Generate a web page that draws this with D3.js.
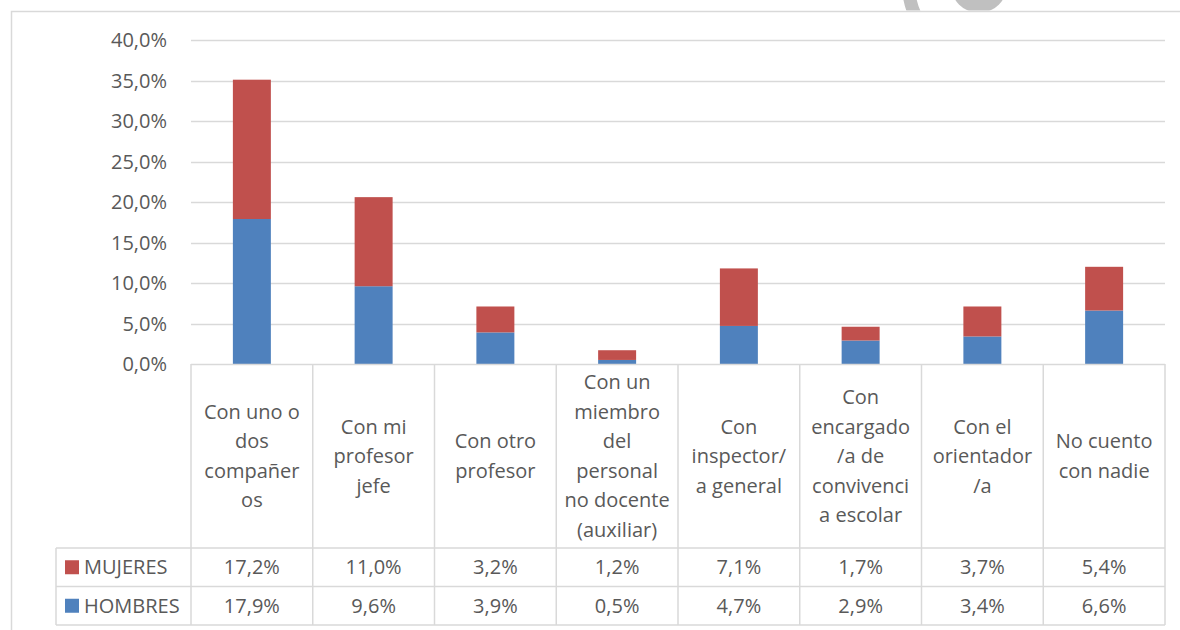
<!DOCTYPE html>
<html>
<head>
<meta charset="utf-8">
<script src="https://cdn.jsdelivr.net/npm/d3@7"></script>
<style>
  body { margin: 0; background: #fff; }
  text { font-family: "Open Sans", "Noto Sans", sans-serif; fill: #595959; }
</style>
</head>
<body>
<div id="chart"></div>
<script>
// DATA
var categories = [
  ["Con uno o", "dos", "compañer", "os"],
  ["Con mi", "profesor", "jefe"],
  ["Con otro", "profesor"],
  ["Con un", "miembro", "del", "personal", "no docente", "(auxiliar)"],
  ["Con", "inspector/", "a general"],
  ["Con", "encargado", "/a de", "convivenci", "a escolar"],
  ["Con el", "orientador", "/a"],
  ["No cuento", "con nadie"]
];
var seriesNames = ["MUJERES", "HOMBRES"];
var mujeres = [17.2, 11.0, 3.2, 1.2, 7.1, 1.7, 3.7, 5.4];
var hombres = [17.9, 9.6, 3.9, 0.5, 4.7, 2.9, 3.4, 6.6];
var yTicks = [0, 5, 10, 15, 20, 25, 30, 35, 40];

var width = 1180, height = 630;
var colors = { MUJERES: "#c0504d", HOMBRES: "#4f81bd" };
var gridColor = "#d9d9d9";
var fontSize = "20px";

var plotLeft = 191, plotRight = 1165, plotTop = 40, plotBottom = 364;
var headerBottom = 548, rowH = 38.5, legendLeft = 56;

var svg = d3.select("#chart").append("svg")
    .attr("width", width)
    .attr("height", height);

// watermark fragment above the frame
var wm = svg.append("g").attr("clip-path", "url(#wmclip)");
svg.append("defs").append("clipPath").attr("id", "wmclip")
  .append("rect").attr("x", 0).attr("y", 0).attr("width", width).attr("height", 10.5);
wm.append("circle").attr("cx", 979).attr("cy", -15).attr("r", 28).attr("fill", "#c0c0c0");
wm.append("path")
  .attr("transform", "translate(979,-15)")
  .attr("d", d3.arc().innerRadius(64).outerRadius(77)
    .startAngle(-125 * Math.PI / 180).endAngle(-95 * Math.PI / 180)())
  .attr("fill", "#c0c0c0");

// chart frame
svg.append("rect")
  .attr("x", 11.5).attr("y", 11.5)
  .attr("width", width).attr("height", height)
  .attr("fill", "none").attr("stroke", gridColor).attr("stroke-width", 1.5);

// SCALES
var x = d3.scaleBand()
  .domain(d3.range(categories.length))
  .range([plotLeft, plotRight])
  .paddingInner(0.688)
  .paddingOuter(0.344);

var y = d3.scaleLinear().domain([0, 40]).range([plotBottom, plotTop]);

// gridlines
svg.append("g").selectAll("line")
  .data(yTicks.filter(function(d) { return d > 0; }))
  .enter().append("line")
  .attr("x1", plotLeft).attr("x2", plotRight)
  .attr("y1", function(d) { return Math.round(y(d)) + 0.5; })
  .attr("y2", function(d) { return Math.round(y(d)) + 0.5; })
  .attr("stroke", gridColor).attr("stroke-width", 1.5);

// y labels
svg.append("g").selectAll("text")
  .data(yTicks)
  .enter().append("text")
  .attr("x", 167)
  .attr("y", function(d) { return y(d); })
  .attr("dy", "0.36em")
  .attr("text-anchor", "end")
  .style("font-size", fontSize)
  .text(function(d) { return d3.format(".1f")(d).replace(".", ",") + "%"; });

// STACKED BARS
var rows = categories.map(function(c, i) { return { i: i, HOMBRES: hombres[i], MUJERES: mujeres[i] }; });
var stack = d3.stack().keys(["HOMBRES", "MUJERES"]);
var layers = stack(rows);

svg.append("g").selectAll("g")
  .data(layers)
  .enter().append("g")
  .attr("fill", function(d) { return colors[d.key]; })
  .selectAll("rect")
  .data(function(d) { return d; })
  .enter().append("rect")
  .attr("x", function(d) { return x(d.data.i); })
  .attr("width", x.bandwidth())
  .attr("y", function(d) { return y(d[1]); })
  .attr("height", function(d) { return y(d[0]) - y(d[1]); });

// DATA TABLE
var tableBottom = headerBottom + 2 * rowH;
var tbl = svg.append("g").attr("stroke", gridColor).attr("stroke-width", 1.5).attr("fill", "none");
var colEdges = d3.range(categories.length + 1).map(function(i) { return plotLeft + i * x.step(); });

// horizontal lines
tbl.append("line").attr("x1", plotLeft).attr("x2", plotRight).attr("y1", plotBottom + 0.5).attr("y2", plotBottom + 0.5);
[headerBottom, headerBottom + rowH, tableBottom].forEach(function(yy) {
  tbl.append("line").attr("x1", legendLeft).attr("x2", plotRight).attr("y1", yy).attr("y2", yy);
});
// vertical lines
colEdges.forEach(function(xx) {
  tbl.append("line").attr("x1", xx).attr("x2", xx).attr("y1", plotBottom).attr("y2", tableBottom);
});
tbl.append("line").attr("x1", legendLeft).attr("x2", legendLeft).attr("y1", headerBottom).attr("y2", tableBottom);

// category headers
var lineH = 29.5;
var headers = svg.append("g").selectAll("text")
  .data(categories)
  .enter().append("text")
  .attr("text-anchor", "middle")
  .style("font-size", fontSize);
headers.each(function(lines, i) {
  var cx = x(i) + x.bandwidth() / 2;
  var cy = (plotBottom + headerBottom) / 2 - (lines.length - 1) * lineH / 2;
  d3.select(this).selectAll("tspan")
    .data(lines)
    .enter().append("tspan")
    .attr("x", cx)
    .attr("y", function(d, j) { return cy + j * lineH; })
    .attr("dy", "0.36em")
    .text(function(d) { return d; });
});

// value rows
var fmt = function(v) { return d3.format(".1f")(v).replace(".", ",") + "%"; };
[mujeres, hombres].forEach(function(vals, r) {
  var cy = headerBottom + r * rowH + rowH / 2;
  var name = seriesNames[r];
  svg.append("rect")
    .attr("x", 65).attr("y", cy - 7).attr("width", 14).attr("height", 14)
    .attr("fill", colors[name]);
  svg.append("text")
    .attr("x", 84).attr("y", cy).attr("dy", "0.36em")
    .style("font-size", fontSize)
    .text(name);
  svg.append("g").selectAll("text")
    .data(vals)
    .enter().append("text")
    .attr("x", function(d, i) { return x(i) + x.bandwidth() / 2; })
    .attr("y", cy).attr("dy", "0.36em")
    .attr("text-anchor", "middle")
    .style("font-size", fontSize)
    .text(fmt);
});
</script>
</body>
</html>
